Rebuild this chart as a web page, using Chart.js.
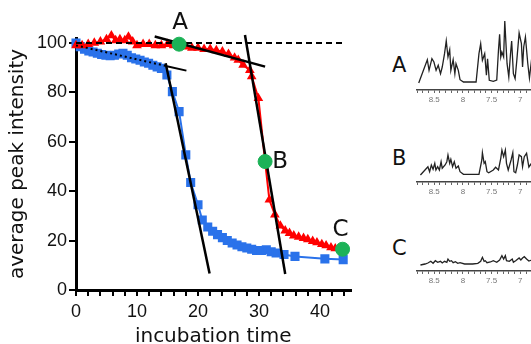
<!DOCTYPE html>
<html>
<head>
  <script src="https://cdn.jsdelivr.net/npm/chart.js"></script>
  <style>
    body { margin: 0; width: 531px; height: 344px; overflow: hidden; background: #fff; position: relative; font-family: "DejaVu Sans", sans-serif; }
    .box { position: absolute; }
    .tag { position: absolute; font-size: 21px; color: #111; line-height: 1; }
  </style>
</head>
<body>
  <div class="box" style="left:0;top:0;width:360px;height:352px;"><canvas id="mainChart"></canvas></div>
  <div class="tag" style="left:392px;top:55px;">A</div>
  <div class="tag" style="left:392px;top:148px;">B</div>
  <div class="tag" style="left:392px;top:238px;">C</div>
  <div class="box" style="left:415px;top:19px;width:148px;height:91px;"><canvas id="specA"></canvas></div>
  <div class="box" style="left:415px;top:111px;width:148px;height:91px;"><canvas id="specB"></canvas></div>
  <div class="box" style="left:415px;top:200px;width:148px;height:91px;"><canvas id="specC"></canvas></div>
</body>
<script>
  // kinetics curves
  var blueTime = [0, 0.7, 1.4, 2.1, 2.8, 3.5, 4.2, 4.9, 5.6, 6.3, 7, 7.7, 8.4, 9.1, 9.8, 10.5, 11.2, 11.9, 12.6, 13.3, 14, 14.9, 15.8, 16.9, 18, 18.8, 20, 20.7, 21.6, 22.4, 23.2, 24, 24.8, 25.6, 26.4, 27.2, 28, 28.8, 29.6, 30.4, 31.2, 32, 32.8, 34.1, 35.9, 40.8, 43.8];
  var blueVals = [100, 98.5, 97.5, 96.8, 96.3, 95.8, 95.3, 95, 94.8, 95, 95.5, 95.8, 95, 94, 93.5, 93, 92.3, 91.8, 91, 90.3, 89.7, 87, 80.3, 72.2, 54.7, 43.5, 34.5, 28.3, 25.5, 23.8, 22.4, 21.2, 20, 19, 18.2, 17.5, 17, 16.5, 16, 16, 16.3, 15.5, 15, 14.4, 13.6, 12.6, 12.3];
  var redTime = [0, 1, 2, 3, 4, 5, 5.8, 6.5, 7.2, 8, 8.6, 9.3, 10, 11, 12, 13, 14, 15, 16, 17, 18, 19, 20, 21, 22, 23, 24, 25, 26, 26.6, 27.4, 28.5, 28.8, 29.9, 31, 31.7, 32.6, 33.5, 34.3, 35, 35.7, 36.5, 37.3, 38, 38.8, 39.5, 40.3, 41, 41.8, 42.5, 43.6];
  var redVals = [99, 99, 99.5, 100, 100.5, 101.5, 103, 101, 101.5, 101, 102.5, 100.5, 99, 99.5, 99.5, 99, 99, 99.5, 99, 99, 98.5, 98, 98, 97.5, 97.5, 97, 96.5, 95.5, 94, 93.1, 91.1, 89, 86.4, 77.6, 52, 36.5, 30.5, 26, 24, 23, 22, 21.5, 21, 20.5, 19.8, 19.2, 18.5, 18, 17.2, 16.8, 16.5];
  var markTime = [16.9, 31.0, 43.7];
  var markVals = [99.5, 52, 16.5];
  var markNames = ['A', 'B', 'C'];

  // hand-drawn fit lines and the 100 % reference
  var refTime = [0, 43.8], refVals = [100, 100];
  var redTopTime = [12.9, 31.0], redTopVals = [102.6, 90.4];
  var redDropTime = [27.7, 34.3], redDropVals = [103.2, 6.5];
  var blueTopTime = [0, 14.9, 18.1], blueTopVals = [99, 90.6, 88.8];
  var blueDropTime = [14.7, 21.9], blueDropVals = [91.8, 6.7];

  // axis ticks
  var xTickVals = [0, 2, 4, 6, 8, 10, 12, 14, 16, 18, 20, 22, 24, 26, 28, 30, 32, 34, 36, 38, 40, 42, 44];
  var yTickVals = [0, 20, 40, 60, 80, 100];

  // 1H spectra (ppm, relative height)
  var specAppm = [8.77, 8.62, 8.59, 8.54, 8.505, 8.467, 8.43, 8.39, 8.36, 8.32, 8.29, 8.26, 8.23, 8.21, 8.17, 8.14, 8.12, 8.08, 8.05, 7.99, 7.77, 7.72, 7.69, 7.66, 7.62, 7.59, 7.57, 7.54, 7.47, 7.41, 7.38, 7.36, 7.34, 7.32, 7.29, 7.27, 7.24, 7.23, 7.20, 7.17, 7.15, 7.12, 7.09, 7.06, 7.02, 6.98, 6.96, 6.94, 6.91, 6.87, 6.84, 6.8];
  var specAint = [0, 23.3, 12.7, 24.3, 21, 12.7, 17.7, 9.3, 16, 29.3, 42, 26, 33.3, 12.7, 23.3, 9.3, 19.3, 12.7, 3.3, 1, 1, 29.3, 39.3, 22.7, 29.3, 7.7, 24.3, 2.7, 1.7, 3, 32.7, 48.7, 26, 31, 26, 62, 29.3, 19.3, 6, 29.3, 42, 9.3, 4.3, 22.7, 50, 39.3, 16, 36, 46, 20, 5, 25];
  var specBppm = [8.74, 8.61, 8.58, 8.55, 8.52, 8.49, 8.47, 8.44, 8.41, 8.38, 8.36, 8.31, 8.28, 8.26, 8.23, 8.21, 8.18, 8.15, 8.12, 8.08, 8.05, 7.99, 7.72, 7.67, 7.66, 7.63, 7.61, 7.58, 7.55, 7.47, 7.43, 7.38, 7.34, 7.32, 7.29, 7.26, 7.24, 7.21, 7.16, 7.13, 7.11, 7.08, 7.05, 7.02, 6.98, 6.96, 6.93, 6.89, 6.85, 6.8];
  var specBint = [0, 8.3, 3.3, 10, 5.7, 11.7, 5, 8.3, 5, 13.3, 6.7, 10, 13.3, 20, 11.7, 15.7, 8.3, 13.3, 6.7, 9, 3.3, 0.7, 0.7, 15, 22.3, 11.7, 13.3, 3.3, 2.3, 5, 7.7, 5, 16.7, 25, 18.3, 25, 11.7, 5, 15, 22.3, 3.3, 2.3, 10, 20, 18.3, 8.3, 18.3, 21.7, 8, 12];
  var specCppm = [8.74, 8.66, 8.61, 8.56, 8.52, 8.48, 8.44, 8.39, 8.36, 8.32, 8.28, 8.26, 8.23, 8.20, 8.17, 8.13, 8.09, 8.05, 7.97, 7.83, 7.74, 7.69, 7.66, 7.63, 7.61, 7.58, 7.52, 7.47, 7.41, 7.36, 7.32, 7.29, 7.26, 7.24, 7.19, 7.14, 7.12, 7.08, 7.02, 6.99, 6.96, 6.93, 6.89, 6.85, 6.8];
  var specCint = [-1, 0, 1, 2.7, 0.7, 3.3, 1.7, 2.7, 1, 2.7, 1.7, 5, 2.7, 3.3, 1.3, 2.3, 0.7, 1.3, 0, 0, 0.7, 2.7, 6.7, 2.7, 3.3, 1.3, 2, 3.3, 1.7, 4, 8.3, 5, 8.3, 3.3, 2.7, 5, 1.7, 3.3, 6, 4, 6, 7.3, 5, 3, 4];

  function pts(xs, ys) {
      return xs.map(function (x, i) { return { x: x, y: ys[i] }; });
  }

  function fitLine(xs, ys, extra) {
      return Object.assign({
          data: pts(xs, ys),
          showLine: true,
          borderColor: '#000',
          borderWidth: 2.5,
          pointRadius: 0,
          clip: false,
      }, extra || {});
  }

  // letters next to the green markers
  var markLabels = {
      id: 'markLabels',
      afterDatasetsDraw: function (chart) {
          var meta = chart.getDatasetMeta(0);
          var offs = [[1, -21], [15, 1], [-2, -19]];
          var ctx = chart.ctx;
          ctx.save();
          ctx.font = '23px "DejaVu Sans", sans-serif';
          ctx.fillStyle = '#111';
          ctx.textAlign = 'center';
          ctx.textBaseline = 'middle';
          meta.data.forEach(function (p, i) {
              ctx.fillText(markNames[i], p.x + offs[i][0], p.y + offs[i][1]);
          });
          ctx.restore();
      }
  };

  var ctx = document.getElementById('mainChart').getContext('2d');
  var mainChart = new Chart(ctx, {
      type: 'scatter',
      data: {
          datasets: [
              {
                  data: pts(markTime, markVals),
                  backgroundColor: '#1cb257',
                  borderColor: '#1cb257',
                  pointRadius: 7,
                  pointHoverRadius: 7,
                  clip: false,
              },
              fitLine(redTopTime, redTopVals),
              fitLine(redDropTime, redDropVals),
              fitLine(blueDropTime, blueDropVals),
              fitLine(blueTopTime, blueTopVals, {
                  borderWidth: 2,
                  segment: { borderDash: function (c) { return c.p0DataIndex === 0 ? [2, 3] : undefined; } },
              }),
              fitLine(refTime, refVals, { borderWidth: 2, borderDash: [6, 4] }),
              {
                  data: pts(redTime, redVals),
                  showLine: true,
                  borderColor: '#f00',
                  backgroundColor: '#f00',
                  borderWidth: 2,
                  pointStyle: 'triangle',
                  pointRadius: 3.6,
                  clip: false,
              },
              {
                  data: pts(blueTime, blueVals),
                  showLine: true,
                  borderColor: '#2a72ea',
                  backgroundColor: '#2a72ea',
                  borderWidth: 2,
                  pointStyle: 'rect',
                  pointRadius: 5,
                  clip: false,
              },
          ],
      },
      options: {
          responsive: true,
          maintainAspectRatio: false,
          animation: false,
          layout: { padding: { top: 38, right: 9.5, left: 0, bottom: 0 } },
          scales: {
              x: {
                  type: 'linear',
                  min: 0,
                  max: 45,
                  afterBuildTicks: function (s) { s.ticks = xTickVals.map(function (v) { return { value: v }; }); },
                  afterFit: function (s) { s.height = 62; },
                  ticks: {
                      autoSkip: false,
                      maxRotation: 0,
                      padding: 5,
                      color: '#111',
                      font: { family: '"Liberation Sans", Arial, sans-serif', size: 18 },
                      callback: function (v) { return v % 10 === 0 ? v : ''; },
                  },
                  grid: { drawOnChartArea: false, color: '#000', lineWidth: 2, tickLength: 6 },
                  border: { color: '#000', width: 3 },
                  title: {
                      display: true,
                      text: 'incubation time',
                      color: '#111',
                      font: { family: '"DejaVu Sans", sans-serif', size: 20 },
                      padding: { top: 0, bottom: 3 },
                  },
              },
              y: {
                  min: 0,
                  max: 102,
                  afterBuildTicks: function (s) { s.ticks = yTickVals.map(function (v) { return { value: v }; }); },
                  afterFit: function (s) { s.width = 76; },
                  ticks: {
                      padding: 2,
                      color: '#111',
                      font: { family: '"Liberation Sans", Arial, sans-serif', size: 18 },
                  },
                  grid: { drawOnChartArea: false, color: '#000', lineWidth: 2, tickLength: 7 },
                  border: { color: '#000', width: 3 },
                  title: {
                      display: true,
                      text: 'average peak intensity',
                      color: '#111',
                      font: { family: '"DejaVu Sans", sans-serif', size: 20 },
                      padding: { top: 6, bottom: 0 },
                  },
              },
          },
          plugins: {
              legend: { display: false },
              tooltip: { enabled: false },
          },
      },
      plugins: [markLabels],
  });

  function spectrum(id, ppm, inten) {
      return new Chart(document.getElementById(id).getContext('2d'), {
          type: 'scatter',
          data: {
              datasets: [{
                  data: pts(ppm, inten),
                  showLine: true,
                  borderColor: '#222',
                  borderWidth: 1.3,
                  pointRadius: 0,
              }],
          },
          options: {
              responsive: true,
              maintainAspectRatio: false,
              animation: false,
              layout: { padding: 0 },
              scales: {
                  x: {
                      type: 'linear',
                      reverse: true,
                      min: 6.29,
                      max: 8.8,
                      afterFit: function (s) { s.height = 20; },
                      ticks: {
                          stepSize: 0.1,
                          autoSkip: false,
                          maxRotation: 0,
                          maxTicksLimit: 100,
                          padding: 2,
                          color: '#777',
                          font: { family: 'Arial, "Liberation Sans", sans-serif', size: 8 },
                          callback: function (v) {
                              return Math.abs(v * 2 - Math.round(v * 2)) < 1e-6 ? String(+v.toFixed(1)) : '';
                          },
                      },
                      grid: { drawOnChartArea: false, color: '#666', lineWidth: 1, tickLength: 3 },
                      border: { color: '#444', width: 1.5 },
                  },
                  y: { display: false, min: -7, max: 64 },
              },
              plugins: {
                  legend: { display: false },
                  tooltip: { enabled: false },
              },
          },
      });
  }

  spectrum('specA', specAppm, specAint);
  spectrum('specB', specBppm, specBint);
  spectrum('specC', specCppm, specCint);
</script>
</html>
